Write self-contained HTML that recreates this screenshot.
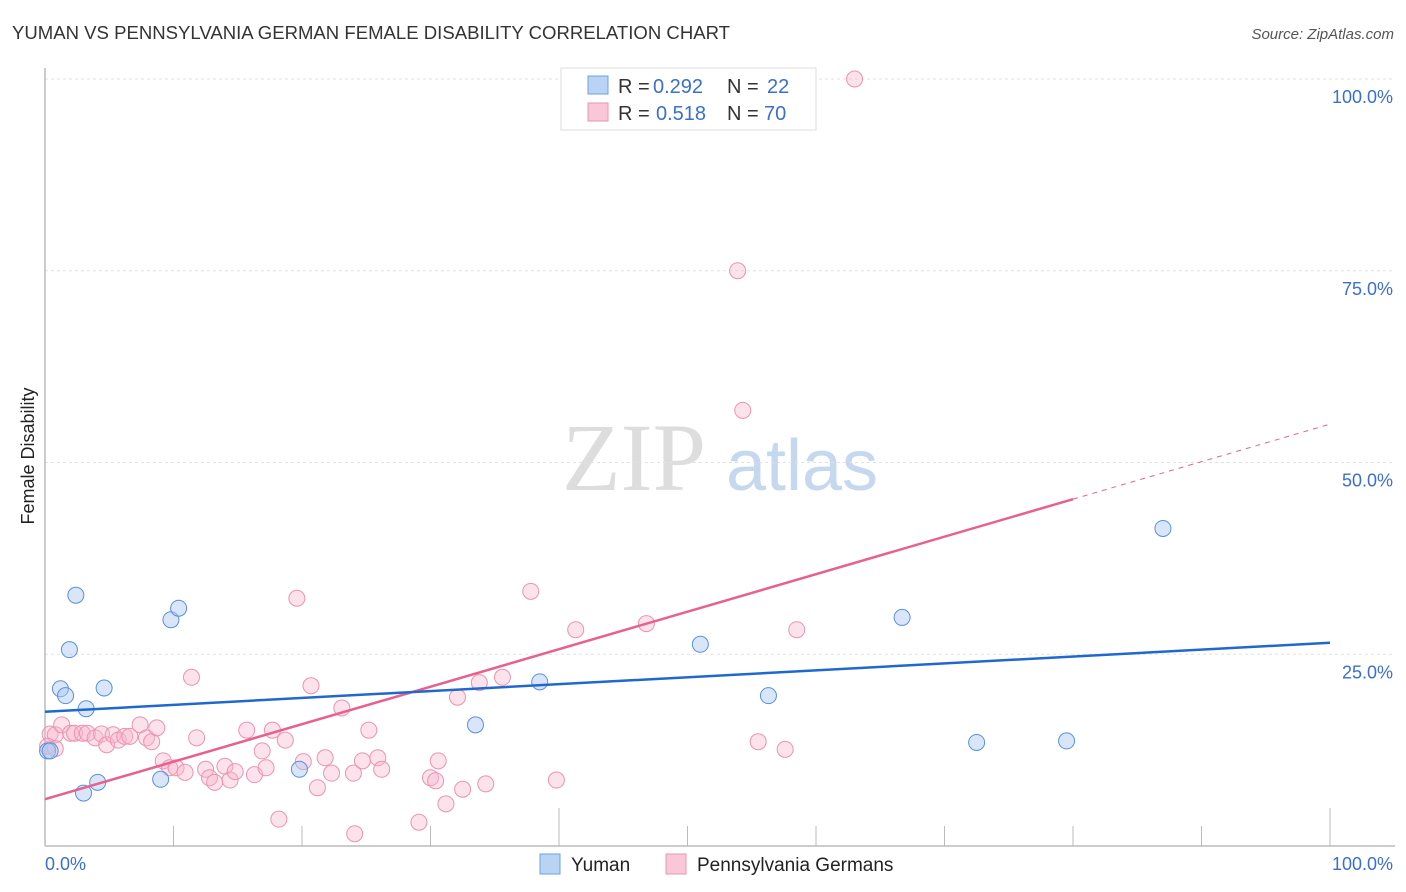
<!DOCTYPE html>
<html><head><meta charset="utf-8"><style>
body{margin:0;background:#fff;font-family:"Liberation Sans",sans-serif}
svg{display:block}
</style></head><body>
<svg id="c" width="1406" height="892">
<text x="12" y="39" font-size="18" fill="#333" textLength="718" lengthAdjust="spacingAndGlyphs">YUMAN VS PENNSYLVANIA GERMAN FEMALE DISABILITY CORRELATION CHART</text>
<text x="1394" y="39" font-size="15" fill="#555" font-style="italic" text-anchor="end">Source: ZipAtlas.com</text>
<text x="34" y="456" font-size="18" fill="#222" text-anchor="middle" transform="rotate(-90 34 456)">Female Disability</text>
<g><text x="634" y="490" font-size="96" fill="#ddd" font-family="Liberation Serif,serif" text-anchor="middle">ZIP</text><text x="802" y="490" font-size="72" fill="#c5d8f0" text-anchor="middle">atlas</text></g>
<g id="grid"></g><g id="marks"></g>
<g>
<rect x="561" y="68" width="255" height="62" fill="#fff" stroke="#ddd"/>
<rect x="588" y="76" width="20" height="18" fill="#b9d3f5" stroke="#6fa0e0"/>
<rect x="588" y="103" width="20" height="18" fill="#f9c8d8" stroke="#ec93b0"/>
<text x="618" y="93" font-size="20" fill="#333">R =</text><text x="653" y="93" font-size="20" fill="#3a6fd0">0.292</text>
<text x="727" y="93" font-size="20" fill="#333">N =</text><text x="767" y="93" font-size="20" fill="#3a6fd0">22</text>
<text x="618" y="120" font-size="20" fill="#333">R =</text><text x="656" y="120" font-size="20" fill="#3a6fd0">0.518</text>
<text x="727" y="120" font-size="20" fill="#333">N =</text><text x="764" y="120" font-size="20" fill="#3a6fd0">70</text>
</g>
<g>
<rect x="540" y="854" width="20" height="20" fill="#b9d3f5" stroke="#6fa0e0"/><text x="571" y="871" font-size="19" fill="#222">Yuman</text>
<rect x="666" y="854" width="20" height="20" fill="#f9c8d8" stroke="#ec93b0"/><text x="697" y="871" font-size="19" fill="#222">Pennsylvania Germans</text>
</g>
</svg>
<script>
const yTicks=[25,50,75,100];
const yTickLabels=["25.0%","50.0%","75.0%","100.0%"];
const xTicks=[0,10,20,30,40,50,60,70,80,90,100];
const yumanX=[0.2,0.4,2.4,1.9,1.2,1.6,3.2,4.6,3.0,4.1,9.0,9.8,10.4,19.8,33.5,38.5,51.0,56.3,66.7,72.5,79.5,87.0];
const yumanY=[12.4,12.4,32.7,25.6,20.5,19.6,17.9,20.6,6.9,8.3,8.7,29.5,31.0,10.0,15.8,21.4,26.3,19.6,29.8,13.5,13.7,41.4];
const penX=[0.4,0.8,1.3,2.0,2.3,2.9,3.3,3.9,4.4,4.8,5.3,5.7,6.2,6.6,7.4,7.9,8.3,8.7,9.2,9.7,10.2,10.9,11.4,11.8,12.5,12.8,13.2,14.0,14.4,14.8,15.7,16.3,16.9,17.2,17.7,18.2,18.7,19.6,20.1,20.7,21.2,21.8,22.3,23.1,24.0,24.1,24.7,25.2,25.9,26.2,29.1,30.0,30.4,30.6,31.2,32.1,32.5,33.8,34.3,35.6,37.8,39.8,41.3,46.8,53.9,54.3,55.5,57.6,58.5,63.0,0.2,0.8];
const penY=[14.6,14.5,15.8,14.7,14.7,14.7,14.7,14.1,14.6,13.2,14.5,13.8,14.3,14.3,15.8,14.1,13.6,15.4,11.1,10.2,10.2,9.6,22.0,14.1,10.0,8.9,8.3,10.4,8.6,9.7,15.1,9.3,12.4,10.2,15.1,3.5,13.8,32.3,11.0,20.9,7.6,11.5,9.5,18.0,9.5,1.6,11.1,15.1,11.5,10.0,3.1,8.9,8.5,11.1,5.5,19.4,7.4,21.3,8.1,22.0,33.2,8.6,28.2,29.0,75.0,56.8,13.6,12.6,28.2,100.0,13.0,12.7];
const yumanTrend=[17.5,26.5];
const penTrend=[6.1,55.0];
const NS="http://www.w3.org/2000/svg";
const X=v=>45+v*12.85, Y=v=>846-v*7.67;
function mk(t,a,p){const e=document.createElementNS(NS,t);for(const k in a)e.setAttribute(k,a[k]);p.appendChild(e);return e;}
const g=document.getElementById('grid'),m=document.getElementById('marks');
yTicks.forEach((t,i)=>{
 const l=mk('line',{x1:45,x2:1395,y1:Y(t),y2:Y(t),stroke:'#e2e2e2','stroke-dasharray':'3,3'},g);
 
 
 const tx=mk('text',{x:1393,y:Y(t)+24,'font-size':18,fill:'#3a6fd0','text-anchor':'end'},g);tx.textContent=yTickLabels[i];
 
 
});
mk('line',{x1:45,x2:45,y1:68,y2:846,stroke:'#bbb','stroke-width':1.5},g);
mk('line',{x1:45,x2:1395,y1:846,y2:846,stroke:'#bbb','stroke-width':1.5},g);
xTicks.forEach(t=>{const tall=(t==40||t==100);const l=mk('line',{x1:X(t),x2:X(t),y1:tall?808:826,y2:846,stroke:'#bbb'},g);
 
 });
let a=mk('text',{x:45,y:870,'font-size':18,fill:'#3a6fd0'},g);a.textContent='0.0%';


a=mk('text',{x:1393,y:870,'font-size':18,fill:'#3a6fd0','text-anchor':'end'},g);a.textContent='100.0%';


penX.forEach((x,i)=>{const c=mk('circle',{cx:X(x),cy:Y(penY[i]),r:8,fill:'rgba(247,182,204,0.4)',stroke:'#ec93b0','stroke-width':1},m);
 
 });
yumanX.forEach((x,i)=>{const c=mk('circle',{cx:X(x),cy:Y(yumanY[i]),r:8,fill:'rgba(170,200,242,0.45)',stroke:'#5a8fdc','stroke-width':1},m);
 
 });
const pe=v=>penTrend[0]+(penTrend[1]-penTrend[0])*v/100;
let l=mk('line',{x1:X(0),y1:Y(pe(0)),x2:X(80),y2:Y(pe(80)),stroke:'#e8608e','stroke-width':2.5},m);


l=mk('line',{x1:X(80),y1:Y(pe(80)),x2:X(100),y2:Y(pe(100)),stroke:'#e8608e','stroke-width':1,'stroke-dasharray':'5,5'},m);


l=mk('line',{x1:X(0),y1:Y(yumanTrend[0]),x2:X(100),y2:Y(yumanTrend[1]),stroke:'#2068d0','stroke-width':2.5},m);


</script>
</body></html>
